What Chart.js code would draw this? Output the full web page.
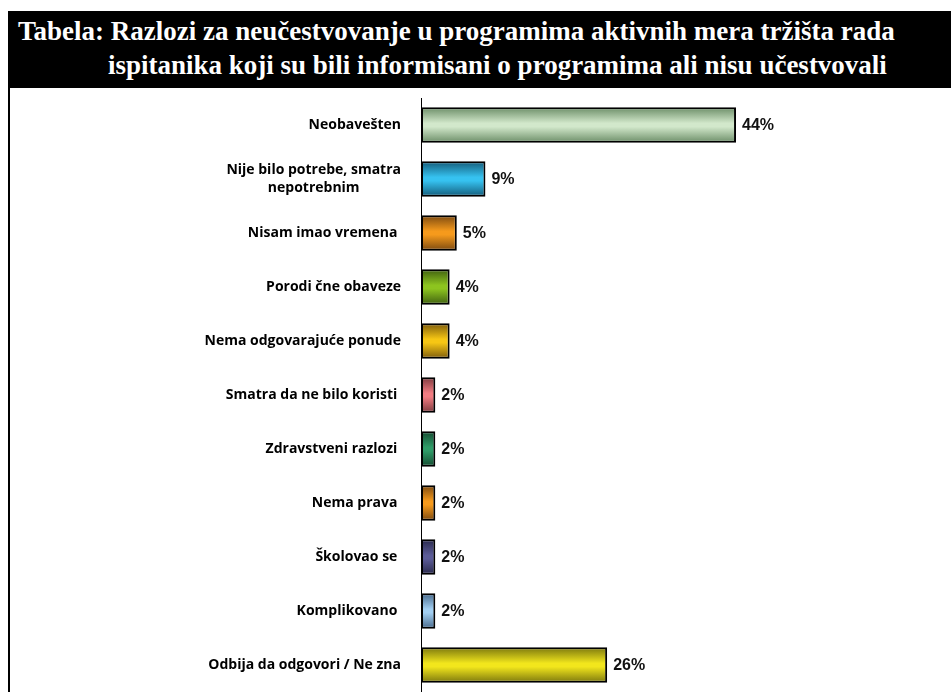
<!DOCTYPE html>
<html>
<head>
<meta charset="utf-8">
<script src="https://cdn.jsdelivr.net/npm/chart.js@4/dist/chart.umd.min.js"></script>
<style>
  body { margin: 0; background: #fff; width: 951px; height: 692px; overflow: hidden; position: relative; }
  #naslov {
    position: absolute; left: 8px; top: 11px; width: 943px; height: 77px;
    background: #000; color: #fff;
    font-family: "Liberation Serif", "DejaVu Serif", serif; font-weight: bold; font-size: 27px;
    line-height: 33px;
  }
  #naslov .r1 { position: absolute; left: 10px; top: 4px; white-space: nowrap; }
  #naslov .r2 { position: absolute; left: 100px; top: 38px; white-space: nowrap; }
  #okvir {
    position: absolute; left: 8px; top: 88px; width: 943px; height: 604px;
    border-left: 2px solid #000; box-sizing: border-box;
  }
  #myChart { display: block; }
</style>
</head>
<body>
<div id="naslov">
  <div class="r1">Tabela: Razlozi za neučestvovanje u programima aktivnih mera tržišta rada</div>
  <div class="r2">ispitanika koji su bili informisani o programima ali nisu učestvovali</div>
</div>
<div id="okvir">
  <canvas id="myChart" width="941" height="604"></canvas>
</div>
<script>
// Kategorije (razlozi)
var kategorije = [
    ["Neobavešten"],
    ["Nije bilo potrebe, smatra", "nepotrebnim"],
    ["Nisam imao vremena "],
    ["Porodi čne obaveze"],
    ["Nema odgovarajuće ponude"],
    ["Smatra da ne bilo koristi "],
    ["Zdravstveni razlozi "],
    ["Nema prava "],
    ["Školovao se "],
    ["Komplikovano "],
    ["Odbija da odgovori / Ne zna"]
];

// Procenti
var procenti = [44, 9, 5, 4, 4, 2, 2, 2, 2, 2, 26];

// Boje: sredina i ivica gradijenta
var bojeSredina = ['#d2e8cb', '#36c2f0', '#f69a1c', '#8dc41f', '#f6c614', '#f27c82', '#2f9c68', '#f69a1c', '#5c5c98', '#a2cff2', '#f2e61c'];
var bojeIvica = ['#6a8c66', '#135a78', '#7a4810', '#3e5e10', '#7c5a0c', '#7c3a3e', '#144a30', '#7a4810', '#28284a', '#46688a', '#7a760e'];

function gradijent(context) {
    var chart = context.chart;
    var i = context.dataIndex;
    if (!chart.chartArea || i === undefined) {
        return bojeSredina[i] || '#888';
    }
    var yScale = chart.scales.y;
    var y = yScale.getPixelForValue(i);
    var pola = (yScale.height / kategorije.length) * 0.66 / 2;
    var g = chart.ctx.createLinearGradient(0, y - pola, 0, y + pola);
    g.addColorStop(0, bojeIvica[i]);
    g.addColorStop(0.45, bojeSredina[i]);
    g.addColorStop(0.55, bojeSredina[i]);
    g.addColorStop(1, bojeIvica[i]);
    return g;
}

// Oznake kategorija (crta ih plugin, vise redova centrirano)
var oznakePlugin = {
    id: 'oznake',
    afterDraw: function(chart) {
        var ctx = chart.ctx;
        var yScale = chart.scales.y;
        var desno = yScale.right - 20;
        ctx.save();
        ctx.font = 'bold 14px "Open Sans", "Noto Sans", sans-serif';
        ctx.fillStyle = '#000';
        ctx.textBaseline = 'middle';
        ctx.textAlign = 'center';
        kategorije.forEach(function(redovi, i) {
            var y = yScale.getPixelForTick(i);
            var sirina = Math.max.apply(null, redovi.map(function(r) { return ctx.measureText(r).width; }));
            var cx = desno - sirina / 2;
            var visina = 18;
            var start = y - (redovi.length - 1) * visina / 2;
            redovi.forEach(function(r, k) {
                ctx.fillText(r, cx, start + k * visina);
            });
        });
        ctx.restore();
    }
};

// Vrednosti pored stubica
var vrednostiPlugin = {
    id: 'vrednosti',
    afterDatasetsDraw: function(chart) {
        var ctx = chart.ctx;
        var meta = chart.getDatasetMeta(0);
        ctx.save();
        ctx.font = 'bold 16px "Liberation Sans", Arial, sans-serif';
        ctx.fillStyle = '#111';
        ctx.textAlign = 'left';
        ctx.textBaseline = 'middle';
        meta.data.forEach(function(bar, i) {
            ctx.fillText(procenti[i] + '%', bar.x + 6, bar.y + 1);
        });
        ctx.restore();
    }
};

const ctx = document.getElementById('myChart').getContext('2d');
window.myChart = new Chart(ctx, {
    type: 'bar',
    data: {
        labels: kategorije,
        datasets: [{
            data: procenti,
            backgroundColor: gradijent,
            borderColor: '#000',
            borderWidth: 2,
            borderSkipped: false,
            barPercentage: 0.66,
            categoryPercentage: 1
        }]
    },
    options: {
        indexAxis: 'y',
        responsive: false,
        animation: false,
        layout: { padding: { top: 10, right: 172, bottom: 0, left: 0 } },
        plugins: {
            legend: { display: false },
            tooltip: { enabled: false }
        },
        scales: {
            x: {
                display: false,
                min: 0,
                max: 50
            },
            y: {
                grid: { display: false },
                border: { display: true, color: '#000', width: 1 },
                ticks: { display: false },
                afterFit: function(scale) { scale.width = 411; }
            }
        }
    },
    plugins: [oznakePlugin, vrednostiPlugin]
});
</script>
</body>
</html>
